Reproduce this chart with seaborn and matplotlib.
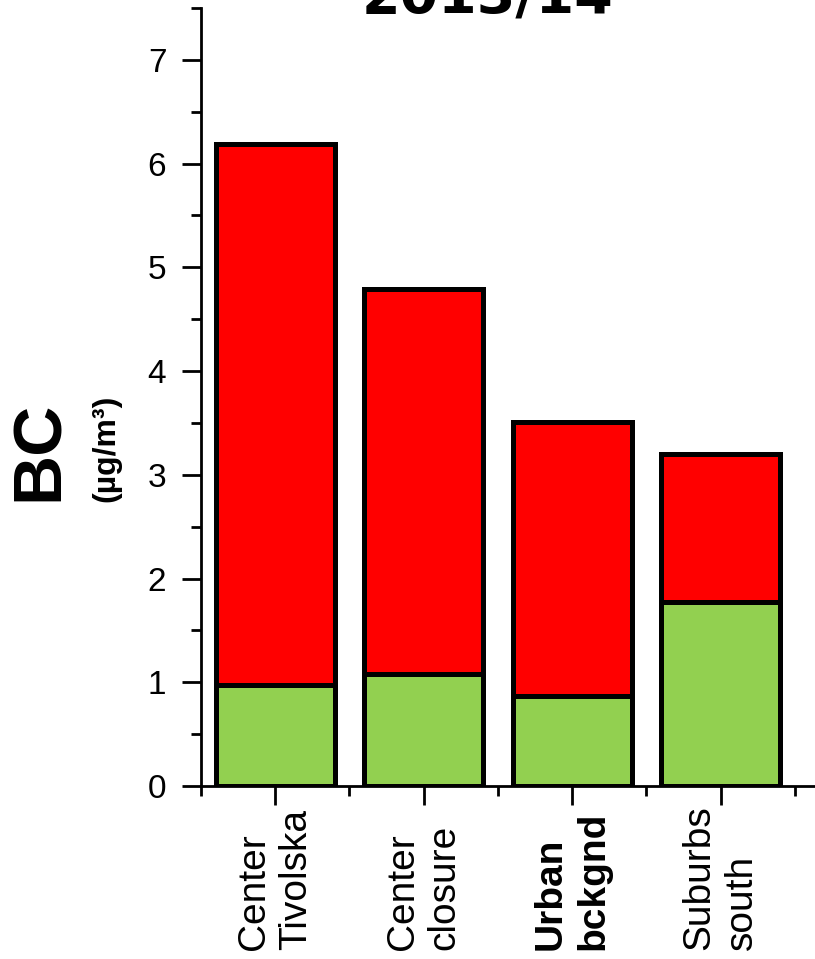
import matplotlib
matplotlib.use('Agg')
import matplotlib.pyplot as plt
import matplotlib.transforms as mtransforms
from matplotlib.ticker import MultipleLocator
import pandas as pd
import seaborn as sns

# data
sites = ['Center\nTivolska', 'Center\nclosure', 'Urban\nbckgnd', 'Suburbs\nsouth']
bc_total = [6.19, 4.79, 3.51, 3.20]
bc_green = [0.97, 1.08, 0.87, 1.77]
bold_site = 'Urban\nbckgnd'

df = pd.DataFrame({'site': sites, 'total': bc_total, 'green': bc_green})

sns.set_style('ticks')
plt.rcParams['font.family'] = ['Liberation Sans', 'DejaVu Sans']
plt.rcParams['text.color'] = 'black'

fig = plt.figure(figsize=(8.15, 9.59), dpi=100)
# axes runs a little past the right edge, as in the reference
ax = fig.add_axes([0.2466, 0.1804, 0.756, 0.8113])

sns.barplot(data=df, x='site', y='total', color='#FF0000', saturation=1,
            edgecolor='black', linewidth=3.6, width=0.8, ax=ax)
sns.barplot(data=df, x='site', y='green', color='#92D050', saturation=1,
            edgecolor='black', linewidth=3.6, width=0.8, ax=ax)

ax.set_xlim(-0.5, 3.65)
ax.set_ylim(0, 7.5)
ax.yaxis.set_major_locator(MultipleLocator(1))
ax.yaxis.set_minor_locator(MultipleLocator(0.5))
ax.set_xticks(range(len(sites)))
ax.set_xticks([i - 0.5 for i in range(len(sites) + 1)], minor=True)
ax.set_xticklabels([])
ax.set_xlabel('')
ax.set_ylabel('')

sns.despine(ax=ax)
for s in ['left', 'bottom']:
    ax.spines[s].set_linewidth(2.0)
    ax.spines[s].set_color('black')
ax.tick_params(axis='both', which='major', length=14, width=2.0, direction='out',
               labelsize=24, colors='black')
ax.tick_params(axis='both', which='minor', length=7, width=2.0, direction='out',
               colors='black')
ax.tick_params(axis='y', pad=11)

# rotated site labels, bottom aligned
trans = mtransforms.blended_transform_factory(ax.transData, fig.transFigure)
for i, name in enumerate(sites):
    ax.text(i, 0.0094, name, transform=trans, rotation=90, ha='center', va='bottom',
            multialignment='left', fontsize=28, linespacing=1.22, color='black',
            fontweight='bold' if name == bold_site else 'normal')

fig.text(0.598, 0.9864, '2013/14', ha='center', va='baseline', color='black',
         fontsize=40, fontweight='bold', family='DejaVu Sans')
fig.text(0.049, 0.530, 'BC', rotation=90, ha='center', va='center', color='black',
         fontsize=50, fontweight='bold')
fig.text(0.131, 0.533, '(µg/m³)', rotation=90, ha='center', va='center', color='black',
         fontsize=23, fontweight='bold')

fig.savefig('out.png', dpi=100)
